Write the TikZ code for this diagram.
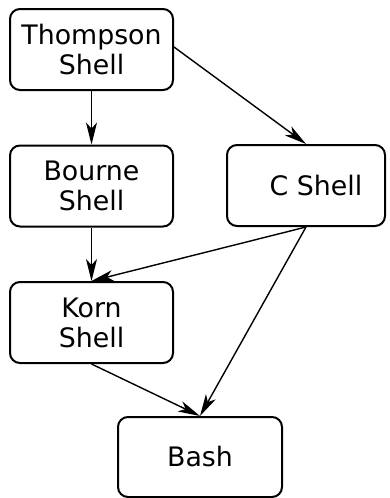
\documentclass[tikz,border=0pt]{standalone}
\usepackage{fontspec}
\setmainfont{DejaVu Sans}
\usetikzlibrary{arrows.meta}
\begin{document}
\begin{tikzpicture}[x=1pt,y=-1pt,
  box/.style={draw, line width=2pt, rounded corners=10pt, minimum width=163pt, minimum height=81pt, inner sep=0pt, align=center, font=\fontsize{26.8}{30}\selectfont},
  edge/.style={line width=1.4pt, -{Stealth[length=22pt,width=11pt,inset=6pt]}}]
\useasboundingbox (0,0) rectangle (389,498);
\node[box] (T) at (91.5,49.5) {Thompson\\Shell};
\node[box] (B) at (91.5,186) {Bourne\\Shell};
\node[box, minimum width=158pt] (C) at (306,185.5) {\hspace{20pt}C Shell};
\node[box] (K) at (91.5,322.5) {Korn\\Shell};
\node[box, minimum width=164pt, minimum height=80pt] (H) at (200,457) {Bash};
\draw[edge] (T.south) -- (B.north);
\draw[edge] ([yshift=2.5pt]T.east) -- (C.north);
\draw[edge] (B.south) -- (K.north);
\draw[edge] (C.south) -- (K.north);
\draw[edge] (K.south) -- (H.north);
\draw[edge] (C.south) -- (H.north);
\end{tikzpicture}
\end{document}
